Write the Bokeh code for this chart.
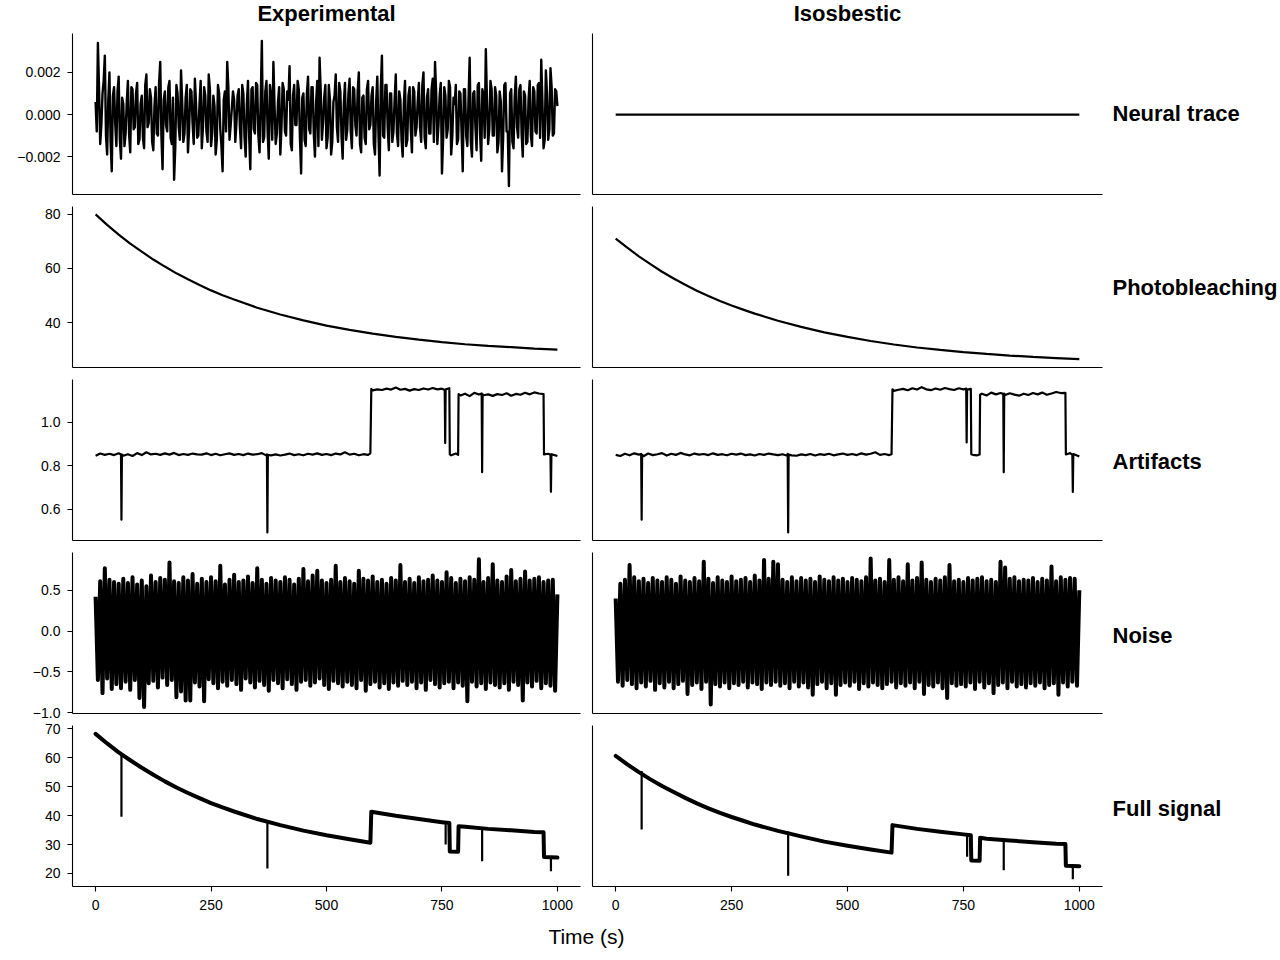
import numpy as np
from bokeh.plotting import figure
from bokeh.models import Range1d, FixedTicker, PrintfTickFormatter, CustomJSTickFormatter, Label
from bokeh.layouts import column, row
from bokeh.embed import file_html
from bokeh.resources import INLINE

FONT = "Liberation Sans"

# ---------------- data ----------------
col_titles = ["Experimental", "Isosbestic"]
row_titles = ["Neural trace", "Photobleaching", "Artifacts", "Noise", "Full signal"]
x_ticks = [0, 250, 500, 750, 1000]

sample_t = list(range(0, 1001, 5))

# neural trace (experimental) sampled every 5 s
neural_exp = [
    0.0006, 0.0034, -0.0014, 0.0010, 0.0028, -0.0019, 0.0020, -0.0027, 0.0013, -0.0015,
    0.0018, -0.0021, 0.0005, -0.0009, 0.0016, -0.0018, 0.0012, -0.0006, 0.0015, -0.0012,
    0.0009, -0.0016, 0.0019, -0.0004, 0.0008, -0.0017, 0.0013, -0.0010, 0.0025, -0.0026,
    0.0011, -0.0008, 0.0016, -0.0014, -0.0031, 0.0014, -0.0006, 0.0021, -0.0013, 0.0008,
    -0.0018, 0.0012, -0.0004, 0.0017, -0.0011, 0.0005, -0.0016, 0.0013, -0.0008, 0.0019,
    -0.0015, 0.0009, -0.0019, 0.0014, -0.0007, -0.0027, 0.0011, 0.0025, -0.0012, 0.0003,
    0.0007, -0.0004, 0.0012, -0.0016, 0.0010, -0.0020, 0.0016, -0.0026, 0.0013, -0.0009,
    0.0014, -0.0018, 0.0035, -0.0011, 0.0016, -0.0021, 0.0009, 0.0025, -0.0014, 0.0006,
    -0.0019, 0.0015, -0.0008, 0.0011, 0.0023, -0.0017, 0.0014, -0.0005, 0.0012, -0.0028,
    0.0010, -0.0015, 0.0018, -0.0009, 0.0013, -0.0020, 0.0016, 0.0027, -0.0012, 0.0008,
    -0.0016, 0.0014, -0.0019, 0.0006, 0.0019, -0.0013, 0.0011, -0.0021, 0.0015, -0.0007,
    0.0017, -0.0016, 0.0012, -0.0010, 0.0020, -0.0018, 0.0009, -0.0014, 0.0016, -0.0005,
    0.0013, -0.0019, 0.0018, -0.0029, 0.0028, -0.0011, 0.0014, -0.0017, 0.0010, -0.0008,
    0.0019, -0.0015, 0.0007, -0.0020, 0.0016, -0.0012, 0.0013, -0.0018, 0.0011, -0.0006,
    0.0015, -0.0013, 0.0020, -0.0016, 0.0012, -0.0009, 0.0017, 0.0025, -0.0014, 0.0009,
    -0.0028, 0.0013, -0.0011, 0.0016, -0.0019, 0.0008, 0.0014, -0.0012, 0.0010, -0.0027,
    0.0012, -0.0015, 0.0027, -0.0020, 0.0011, -0.0017, 0.0015, -0.0022, 0.0009, 0.0031,
    -0.0014, 0.0016, -0.0010, 0.0013, -0.0018, 0.0011, -0.0027, 0.0014, -0.0008, -0.0034,
    0.0012, -0.0016, 0.0018, -0.0011, 0.0014, -0.0020, 0.0009, -0.0013, 0.0016, -0.0015,
    0.0011, -0.0009, 0.0015, 0.0026, -0.0016, 0.0021, -0.0012, 0.0022, -0.0010, 0.0012,
    0.0004,
]
# neural trace (experimental) at the half-way samples 2.5, 7.5, ... 997.5 s
neural_exp_mid = [
    -0.0008, 0.0012, -0.0005, 0.0016, -0.0010, 0.0007, -0.0013, 0.0009, -0.0004, 0.0011,
    -0.0012, 0.0008, -0.0015, 0.0006, -0.0009, 0.0013, -0.0007, 0.0010, -0.0014, 0.0005,
    -0.0011, 0.0014, -0.0006, 0.0012, -0.0013, 0.0004, -0.0009, 0.0015, -0.0010, 0.0007,
    -0.0005, 0.0013, -0.0011, 0.0008, -0.0016, 0.0010, -0.0012, 0.0006, -0.0009, 0.0014,
    -0.0007, 0.0011, -0.0014, 0.0005, -0.0010, 0.0016, -0.0006, 0.0009, -0.0013, 0.0012,
    -0.0009, 0.0004, -0.0012, 0.0010, -0.0015, 0.0007, -0.0008, 0.0013, -0.0005, 0.0011,
    -0.0013, 0.0009, -0.0006, 0.0014, -0.0011, 0.0005, -0.0010, 0.0012, -0.0007, 0.0015,
    -0.0010, 0.0006, -0.0013, 0.0011, -0.0008, 0.0014, -0.0012, 0.0004, -0.0009, 0.0013,
    -0.0006, 0.0012, -0.0010, 0.0007, -0.0014, 0.0009, -0.0005, 0.0016, -0.0011, 0.0008,
    -0.0012, 0.0010, -0.0007, 0.0013, -0.0009, 0.0006, -0.0015, 0.0011, -0.0004, 0.0014,
    -0.0011, 0.0007, -0.0013, 0.0009, -0.0006, 0.0015, -0.0010, 0.0005, -0.0012, 0.0010,
    -0.0008, 0.0013, -0.0005, 0.0011, -0.0014, 0.0008, -0.0011, 0.0012, -0.0007, 0.0009,
    -0.0014, 0.0006, -0.0009, 0.0012, -0.0010, 0.0014, -0.0006, 0.0010, -0.0013, 0.0007,
    -0.0009, 0.0011, -0.0012, 0.0005, -0.0015, 0.0009, -0.0007, 0.0013, -0.0010, 0.0006,
    -0.0006, 0.0014, -0.0011, 0.0008, -0.0009, 0.0012, -0.0013, 0.0010, -0.0005, 0.0015,
    -0.0012, 0.0009, -0.0007, 0.0013, -0.0010, 0.0005, -0.0014, 0.0011, -0.0008, 0.0012,
    -0.0010, 0.0007, -0.0013, 0.0010, -0.0006, 0.0014, -0.0009, 0.0012, -0.0011, 0.0006,
    -0.0007, 0.0012, -0.0010, 0.0009, -0.0013, 0.0006, -0.0011, 0.0015, -0.0008, 0.0010,
    -0.0013, 0.0008, -0.0006, 0.0012, -0.0009, 0.0011, -0.0014, 0.0007, -0.0010, 0.0013,
    -0.0008, 0.0014, -0.0011, 0.0006, -0.0012, 0.0010, -0.0007, 0.0013, -0.0009, 0.0011,
]
neural_iso_t = [0, 1000]
neural_iso = [0.0, 0.0]

bleach_exp = [(0, 80.0), (25, 76.1), (50, 72.5), (75, 69.2), (100, 66.2), (125, 63.3),
              (150, 60.7), (175, 58.2), (200, 56.0), (225, 53.9), (250, 51.9), (275, 50.1),
              (300, 48.5), (350, 45.5), (400, 43.0), (450, 40.8), (500, 38.9), (550, 37.3),
              (600, 35.9), (650, 34.7), (700, 33.7), (750, 32.8), (800, 32.0), (850, 31.4),
              (900, 30.9), (950, 30.4), (1000, 30.0)]
bleach_iso = [(0, 71.0), (25, 67.7), (50, 64.5), (75, 61.6), (100, 58.8), (125, 56.3),
              (150, 54.0), (175, 51.8), (200, 49.8), (225, 48.0), (250, 46.3), (275, 44.8),
              (300, 43.3), (350, 40.7), (400, 38.4), (450, 36.4), (500, 34.7), (550, 33.2),
              (600, 31.9), (650, 30.8), (700, 29.9), (750, 29.1), (800, 28.4), (850, 27.8),
              (900, 27.3), (950, 26.9), (1000, 26.5)]

art_exp = [(0, .846), (10, .856), (20, .850), (30, .855), (40, .849), (50, .857), (55, .852),
           (56, .553), (57, .852),
           (60, .846), (70, .853), (80, .845), (90, .858), (100, .849), (110, .862), (120, .852),
           (130, .855), (140, .850), (150, .857), (160, .851), (170, .859), (180, .849),
           (190, .854), (200, .850), (210, .856), (220, .852), (230, .851), (240, .857),
           (250, .849), (260, .855), (270, .848), (280, .853), (290, .857), (300, .850),
           (310, .854), (320, .849), (330, .856), (340, .851), (350, .853), (360, .858),
           (370, .847), (371, .852), (372, .495), (373, .850),
           (380, .848), (390, .852), (400, .847), (410, .851), (420, .856), (430, .849),
           (440, .853), (450, .848), (460, .855), (470, .851), (480, .857), (490, .850),
           (500, .854), (510, .849), (520, .856), (530, .852), (540, .862), (550, .851),
           (560, .855), (570, .848), (580, .853), (590, .850), (595, .857), (597, 1.152),
           (600, 1.145), (610, 1.150), (620, 1.147), (630, 1.153), (640, 1.149), (650, 1.158),
           (660, 1.148), (670, 1.152), (680, 1.144), (690, 1.151), (700, 1.147), (710, 1.154),
           (720, 1.149), (730, 1.156), (740, 1.150), (750, 1.153), (756, 1.147), (757, .904),
           (758, 1.150), (766, 1.155), (767, .852), (770, .848), (780, .856), (785, .850),
           (786, 1.128),
           (790, 1.122), (800, 1.130), (810, 1.119), (820, 1.134), (830, 1.126), (836, 1.131),
           (837, .771), (838, 1.128),
           (840, 1.123), (850, 1.127), (860, 1.120), (870, 1.128), (880, 1.124), (890, 1.132),
           (900, 1.121), (910, 1.129), (920, 1.125), (930, 1.134), (940, 1.127), (950, 1.136),
           (960, 1.131), (970, 1.128), (971, .852),
           (980, .855), (985, .850), (986, .681), (987, .853), (990, .851), (1000, .845)]
art_iso = [(0, .850), (10, .845), (20, .855), (30, .848), (40, .857), (50, .851), (55, .854),
           (56, .553), (57, .851),
           (60, .844), (70, .856), (80, .849), (90, .853), (100, .858), (110, .847), (120, .855),
           (130, .850), (140, .859), (150, .852), (160, .848), (170, .856), (180, .851),
           (190, .854), (200, .849), (210, .857), (220, .850), (230, .853), (240, .848),
           (250, .855), (260, .851), (270, .856), (280, .849), (290, .852), (300, .847),
           (310, .854), (320, .850), (330, .856), (340, .852), (350, .849), (360, .853),
           (370, .846), (371, .855), (372, .495), (373, .851),
           (380, .848), (390, .846), (400, .852), (410, .849), (420, .854), (430, .847),
           (440, .853), (450, .850), (460, .855), (470, .848), (480, .852), (490, .856),
           (500, .850), (510, .854), (520, .849), (530, .857), (540, .851), (550, .855),
           (560, .862), (570, .850), (580, .854), (590, .849), (595, .853), (597, 1.150),
           (600, 1.143), (610, 1.148), (620, 1.152), (630, 1.146), (640, 1.155), (650, 1.149),
           (660, 1.160), (670, 1.150), (680, 1.146), (690, 1.154), (700, 1.148), (710, 1.156),
           (720, 1.151), (730, 1.147), (740, 1.155), (750, 1.150), (756, 1.153), (757, .907),
           (758, 1.149), (766, 1.152), (767, .853), (770, .850), (780, .848), (785, .852),
           (786, 1.125),
           (790, 1.130), (800, 1.122), (810, 1.135), (820, 1.127), (830, 1.133), (836, 1.129),
           (837, .770), (838, 1.131),
           (840, 1.124), (850, 1.132), (860, 1.126), (870, 1.121), (880, 1.130), (890, 1.124),
           (900, 1.133), (910, 1.127), (920, 1.135), (930, 1.125), (940, 1.131), (950, 1.138),
           (960, 1.133), (970, 1.134), (971, .852),
           (980, .858), (985, .851), (986, .680), (987, .854), (990, .852), (1000, .842)]

noise_exp = [
    0.42, -0.60, 0.61, -0.76, 0.77, -0.58, 0.63, -0.71, 0.60, -0.65,
    0.58, -0.70, 0.64, -0.62, 0.59, -0.72, 0.66, -0.60, 0.57, -0.82,
    0.62, -0.93, 0.55, -0.64, 0.68, -0.61, 0.60, -0.69, 0.65, -0.57,
    0.63, -0.66, 0.84, -0.60, 0.61, -0.81, 0.59, -0.74, 0.66, -0.85,
    0.62, -0.85, 0.70, -0.63, 0.58, -0.68, 0.64, -0.86, 0.60, -0.59,
    0.66, -0.64, 0.61, -0.70, 0.80, -0.62, 0.57, -0.67, 0.63, -0.60,
    0.69, -0.65, 0.60, -0.72, 0.62, -0.58, 0.67, -0.63, 0.59, -0.69,
    0.77, -0.61, 0.63, -0.66, 0.58, -0.73, 0.65, -0.60, 0.62, -0.64,
    0.60, -0.70, 0.66, -0.59, 0.63, -0.65, 0.57, -0.72, 0.64, -0.62,
    0.76, -0.60, 0.61, -0.67, 0.68, -0.63, 0.74, -0.58, 0.62, -0.66,
    0.59, -0.71, 0.63, -0.61, 0.80, -0.64, 0.60, -0.68, 0.65, -0.62,
    0.61, -0.66, 0.58, -0.70, 0.74, -0.60, 0.64, -0.73, 0.62, -0.65,
    0.67, -0.62, 0.60, -0.69, 0.63, -0.64, 0.58, -0.71, 0.65, -0.63,
    0.62, -0.67, 0.81, -0.61, 0.60, -0.66, 0.64, -0.62, 0.59, -0.70,
    0.66, -0.63, 0.61, -0.72, 0.63, -0.60, 0.68, -0.65, 0.62, -0.69,
    0.60, -0.64, 0.72, -0.62, 0.65, -0.70, 0.59, -0.63, 0.64, -0.67,
    0.61, -0.86, 0.66, -0.62, 0.63, -0.68, 0.88, -0.64, 0.60, -0.71,
    0.65, -0.63, 0.82, -0.66, 0.62, -0.69, 0.60, -0.64, 0.67, -0.72,
    0.75, -0.62, 0.61, -0.66, 0.64, -0.85, 0.73, -0.63, 0.62, -0.68,
    0.64, -0.61, 0.66, -0.70, 0.60, -0.64, 0.62, -0.67, 0.63, -0.73,
    0.45,
]
noise_iso = [
    0.40, -0.62, 0.58, -0.67, 0.63, -0.60, 0.81, -0.65, 0.66, -0.70,
    0.61, -0.63, 0.64, -0.68, 0.59, -0.61, 0.65, -0.72, 0.62, -0.64,
    0.60, -0.69, 0.66, -0.62, 0.63, -0.70, 0.58, -0.65, 0.67, -0.61,
    0.62, -0.77, 0.60, -0.66, 0.65, -0.63, 0.61, -0.71, 0.85, -0.62,
    0.64, -0.90, 0.59, -0.65, 0.66, -0.68, 0.62, -0.63, 0.60, -0.70,
    0.67, -0.64, 0.61, -0.66, 0.63, -0.62, 0.65, -0.69, 0.60, -0.63,
    0.68, -0.65, 0.62, -0.71, 0.87, -0.63, 0.64, -0.66, 0.85, -0.62,
    0.82, -0.67, 0.63, -0.64, 0.60, -0.70, 0.66, -0.62, 0.61, -0.68,
    0.65, -0.63, 0.62, -0.69, 0.64, -0.78, 0.60, -0.65, 0.67, -0.62,
    0.63, -0.70, 0.61, -0.64, 0.66, -0.78, 0.62, -0.66, 0.64, -0.63,
    0.60, -0.67, 0.65, -0.62, 0.63, -0.71, 0.61, -0.64, 0.66, -0.68,
    0.89, -0.63, 0.62, -0.66, 0.64, -0.70, 0.60, -0.65, 0.87, -0.62,
    0.63, -0.69, 0.66, -0.64, 0.61, -0.67, 0.82, -0.63, 0.62, -0.70,
    0.65, -0.62, 0.84, -0.77, 0.63, -0.66, 0.60, -0.68, 0.64, -0.63,
    0.62, -0.70, 0.66, -0.82, 0.81, -0.64, 0.61, -0.67, 0.63, -0.65,
    0.60, -0.68, 0.65, -0.63, 0.62, -0.71, 0.64, -0.62, 0.66, -0.69,
    0.61, -0.64, 0.63, -0.76, 0.60, -0.66, 0.85, -0.63, 0.78, -0.70,
    0.64, -0.62, 0.66, -0.68, 0.61, -0.65, 0.63, -0.69, 0.62, -0.64,
    0.65, -0.67, 0.60, -0.63, 0.64, -0.70, 0.62, -0.66, 0.79, -0.64,
    0.61, -0.78, 0.66, -0.63, 0.63, -0.68, 0.65, -0.62, 0.64, -0.67,
    0.50,
]

full_exp = [(0, 68.2), (25, 64.9), (50, 61.8), (75, 59.1), (100, 56.5), (125, 54.1),
            (150, 51.8), (175, 49.7), (200, 47.8), (225, 46.0), (250, 44.3), (275, 42.8),
            (300, 41.4), (350, 38.8), (400, 36.7), (450, 34.8), (500, 33.2), (550, 31.8),
            (595, 30.6), (597, 41.3), (650, 39.9), (700, 38.8), (750, 37.7), (766, 37.4),
            (767, 27.6), (785, 27.5), (786, 36.3), (800, 36.1), (850, 35.4), (900, 34.9),
            (950, 34.3), (970, 34.2), (971, 25.7), (1000, 25.5)]
full_iso = [(0, 60.6), (25, 57.7), (50, 55.0), (75, 52.5), (100, 50.2), (125, 48.1),
            (150, 46.1), (175, 44.2), (200, 42.5), (225, 40.9), (250, 39.5), (275, 38.2),
            (300, 36.9), (350, 34.7), (400, 32.8), (450, 31.0), (500, 29.6), (550, 28.3),
            (595, 27.2), (597, 36.7), (650, 35.4), (700, 34.4), (750, 33.5), (766, 33.2),
            (767, 24.5), (785, 24.4), (786, 32.3), (800, 32.0), (850, 31.4), (900, 30.8),
            (950, 30.3), (970, 30.2), (971, 22.7), (1000, 22.5)]
dip_t = [56, 372, 758, 837, 986]
full_exp_dip_top = [61.1, 37.8, 37.6, 35.5, 25.6]
full_exp_dip_bottom = [39.6, 21.7, 30.0, 24.2, 20.8]
full_iso_dip_top = [55.4, 34.5, 33.3, 31.6, 22.6]
full_iso_dip_bottom = [35.2, 19.2, 25.8, 21.1, 18.0]

# y axis set-up per row
y_ranges = [(-0.0038, 0.00385), (23.4, 82.9), (0.458, 1.195), (-1.01, 0.963), (15.5, 71.1)]
y_ticks = [[-0.002, 0.0, 0.002], [40, 60, 80], [0.6, 0.8, 1.0],
           [-1.0, -0.5, 0.0, 0.5], [20, 30, 40, 50, 60, 70]]
y_decimals = [3, 0, 1, 1, 0]

# layout (pixels)
row_label_y = [113, 287, 461, 635, 808]
border_top = [0, 6, 6, 6, 4]
border_bottom = [6, 6, 6, 8, 30]


def split(pairs):
    return [a for a, _ in pairs], [b for _, b in pairs]


# interleave the 5 s samples with the half-way samples
neural_t, neural_v = [], []
for k, v in enumerate(neural_exp):
    neural_t.append(sample_t[k])
    neural_v.append(v)
    if k < len(neural_exp_mid):
        neural_t.append(sample_t[k] + 2.5)
        neural_v.append(neural_exp_mid[k])


def minus_formatter(decimals):
    return CustomJSTickFormatter(
        args=dict(d=decimals),
        code="const s = Math.abs(tick) < 1e-12 ? (0).toFixed(d) : tick.toFixed(d);"
             " return s.replace('-', '\u2212');")


def make_fig(c, r):
    left = c == 0
    p = figure(frame_width=508 if left else 510, frame_height=161,
               x_range=Range1d(-50, 1050), y_range=Range1d(*y_ranges[r]),
               output_backend="svg", toolbar_location=None,
               min_border_left=72 if left else 6,
               min_border_right=6 if left else 10,
               min_border_top=border_top[r],
               min_border_bottom=border_bottom[r])
    p.outline_line_color = None
    p.grid.visible = False
    for ax in p.axis:
        ax.axis_line_color = "black"
        ax.axis_line_width = 1.1
        ax.major_tick_line_color = "black"
        ax.major_tick_line_width = 1.1
        ax.minor_tick_line_color = None
        ax.major_tick_in = 0
        ax.major_tick_out = 5
        ax.major_label_text_font = FONT
        ax.major_label_text_font_size = "14px"
        ax.major_label_text_color = "black"
        ax.major_label_standoff = 7
    xa = p.xaxis[0]
    if r == 4:
        xa.ticker = FixedTicker(ticks=x_ticks)
        xa.formatter = PrintfTickFormatter(format="%d")
        xa.major_label_standoff = 8
    else:
        xa.ticker = FixedTicker(ticks=[])
        xa.major_tick_out = 0
        xa.major_label_standoff = 0
    ya = p.yaxis[0]
    if left:
        ya.ticker = FixedTicker(ticks=y_ticks[r])
        ya.formatter = minus_formatter(y_decimals[r])
    else:
        ya.ticker = FixedTicker(ticks=[])
        ya.major_tick_out = 0
        ya.major_label_standoff = 0
    return p


figs = [[make_fig(c, r) for c in range(2)] for r in range(5)]

# Row 0: neural trace
figs[0][0].line(neural_t, neural_v, line_color="black", line_width=2.4, line_join="round")
figs[0][1].line(neural_iso_t, neural_iso, line_color="black", line_width=2.2)
# Row 1: photobleaching
for c, data in enumerate([bleach_exp, bleach_iso]):
    t, v = split(data)
    figs[1][c].line(t, v, line_color="black", line_width=2.2)
# Row 2: artifacts
for c, data in enumerate([art_exp, art_iso]):
    t, v = split(data)
    figs[2][c].line(t, v, line_color="black", line_width=2.2, line_join="round")
# Row 3: noise
figs[3][0].line(sample_t, noise_exp, line_color="black", line_width=4, line_join="round")
figs[3][1].line(sample_t, noise_iso, line_color="black", line_width=4, line_join="round")
# Row 4: full signal
for c, (data, top, bot) in enumerate([(full_exp, full_exp_dip_top, full_exp_dip_bottom),
                                      (full_iso, full_iso_dip_top, full_iso_dip_bottom)]):
    t, v = split(data)
    figs[4][c].line(t, v, line_color="black", line_width=4, line_join="round", line_cap="round")
    figs[4][c].segment(x0=dip_t, y0=top, x1=dip_t, y1=bot, line_color="black", line_width=2.2)

# Header with column titles
header = figure(width=1112, height=33, x_range=Range1d(0, 1112), y_range=Range1d(33, 0),
                output_backend="svg", toolbar_location=None, min_border=0,
                x_axis_type=None, y_axis_type=None)
header.grid.visible = False
header.outline_line_color = None
for x, txt in zip([326, 847], col_titles):
    header.add_layout(Label(x=x, y=13, text=txt, text_font=FONT, text_font_size="22px",
                            text_font_style="bold", text_align="center",
                            text_baseline="middle", text_color="black"))

# Footer with x-axis label
footer = figure(width=1112, height=44, x_range=Range1d(0, 1112), y_range=Range1d(44, 0),
                output_backend="svg", toolbar_location=None, min_border=0,
                x_axis_type=None, y_axis_type=None)
footer.grid.visible = False
footer.outline_line_color = None
footer.add_layout(Label(x=586, y=20, text="Time (s)", text_font=FONT, text_font_size="21px",
                        text_align="center", text_baseline="middle", text_color="black"))

# Right-hand column with row titles
side = figure(width=168, height=960, x_range=Range1d(1112, 1280), y_range=Range1d(960, 0),
              output_backend="svg", toolbar_location=None, min_border=0,
              x_axis_type=None, y_axis_type=None)
side.grid.visible = False
side.outline_line_color = None
for y, txt in zip(row_label_y, row_titles):
    side.add_layout(Label(x=1112, y=y, text=txt, text_font=FONT, text_font_size="22px",
                          text_font_style="bold", text_align="left",
                          text_baseline="middle", text_color="black"))

grid = column([header] + [row(figs[r][0], figs[r][1], spacing=0) for r in range(5)] + [footer],
              spacing=0)
layout = row(grid, side, spacing=0)

with open("out.html", "w") as f:
    f.write(file_html(layout, INLINE))
